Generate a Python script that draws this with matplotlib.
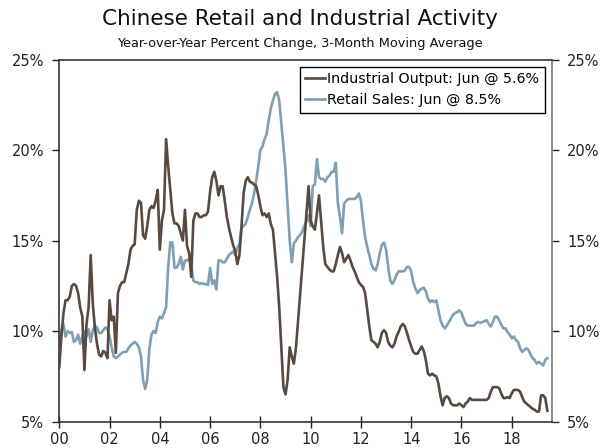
import numpy as np
import matplotlib
matplotlib.use('Agg')
import matplotlib.pyplot as plt
from matplotlib.ticker import FuncFormatter

# monthly values, Jan 2000 - Jun 2019 (3-month moving avg, yoy %)
industrial = [
    8.0, 9.7, 11.0, 11.7, 11.7, 11.9, 12.5, 12.6, 12.5, 12.1, 11.3, 10.8,
    7.85, 10.4, 11.3, 14.2, 11.5, 10.2, 9.3, 8.7, 8.6, 8.9, 8.8, 8.5,
    11.7, 10.6, 10.8, 8.8, 12.1, 12.5, 12.7, 12.7, 13.2, 13.7, 14.5, 14.7,
    14.8, 16.7, 17.2, 17.1, 15.3, 15.1, 15.8, 16.7, 16.9, 16.8, 17.2, 17.8,
    14.5, 16.1, 16.7, 20.6, 19.1, 17.8, 16.5, 15.95, 15.95, 15.8, 15.4, 15.0,
    16.7, 14.7, 14.3, 13.0, 16.1, 16.5, 16.5, 16.3, 16.3, 16.4, 16.4, 16.6,
    17.7, 18.5, 18.8, 18.3, 17.5, 18.0, 18.0, 17.2, 16.3, 15.7, 15.2, 14.75,
    14.4, 13.7, 14.2, 15.8, 17.6, 18.3, 18.5, 18.25, 18.2, 18.1, 18.0, 17.5,
    16.9, 16.4, 16.5, 16.3, 16.5, 15.9, 15.6, 14.3, 13.0, 11.3, 9.1, 6.9,
    6.5, 7.3, 9.1, 8.6, 8.2, 9.1, 10.6, 12.1, 13.55, 15.0, 16.5, 18.0,
    16.1, 15.8, 15.6, 16.5, 17.5, 16.1, 14.65, 13.7, 13.55, 13.4, 13.3, 13.3,
    13.7, 14.2, 14.65, 14.3, 13.8, 14.0, 14.2, 13.9, 13.55, 13.3, 13.0, 12.7,
    12.55, 12.45, 12.1, 11.2, 10.25, 9.5, 9.4, 9.3, 9.1, 9.4, 9.9, 10.05,
    9.9, 9.4, 9.2, 9.1, 9.3, 9.7, 9.95, 10.25, 10.4, 10.25, 9.9, 9.5,
    9.15, 8.85, 8.75, 8.75, 8.95, 9.15, 8.9, 8.4, 7.65, 7.55, 7.65, 7.55,
    7.5, 7.1, 6.4, 5.9, 6.3, 6.4, 6.3, 6.0, 5.9, 5.9, 5.9, 6.0,
    5.9, 5.8, 6.0, 6.1, 6.3, 6.2, 6.2, 6.2, 6.2, 6.2, 6.2, 6.2,
    6.2, 6.3, 6.65, 6.9, 6.9, 6.9, 6.85, 6.55, 6.3, 6.3, 6.35, 6.3,
    6.55, 6.75, 6.75, 6.75, 6.65, 6.35, 6.1, 6.0, 5.9, 5.8, 5.7, 5.65,
    5.55, 5.55, 6.45, 6.45, 6.3, 5.6]

retail = [
    9.1, 10.05, 10.4, 9.7, 10.0, 9.9, 9.95, 9.4, 9.5, 9.8, 9.3, 9.7,
    10.0, 9.7, 10.1, 9.4, 10.05, 10.3, 10.2, 9.9, 9.9, 10.05, 10.2, 10.1,
    9.7, 9.1, 8.6, 8.5, 8.6, 8.7, 8.8, 8.85, 8.85, 9.05, 9.2, 9.3,
    9.4, 9.3, 9.1, 8.6, 7.3, 6.8, 7.3, 9.0, 9.8, 10.0, 9.9, 10.5,
    10.8, 10.7, 11.0, 11.3, 13.55, 14.9, 14.9, 13.5, 13.5, 13.7, 14.1, 13.4,
    13.9, 13.9, 14.0, 13.7, 12.8, 12.7, 12.7, 12.6, 12.65, 12.6, 12.6, 12.55,
    13.5, 12.6, 12.8, 12.3, 13.9, 13.9, 13.8, 13.8, 14.0, 14.2, 14.3, 14.4,
    14.2, 14.6, 14.8, 15.7, 15.8, 15.95, 16.3, 16.7, 17.05, 17.6, 18.3, 19.1,
    20.0, 20.2, 20.6, 20.9, 21.65, 22.3, 22.75, 23.1, 23.2, 22.75, 21.5, 20.2,
    18.9, 16.9, 15.0, 13.8, 14.85, 15.0, 15.2, 15.3, 15.5, 15.8, 16.05, 16.4,
    15.8, 18.0, 18.1, 19.5, 18.5, 18.4, 18.4, 18.25, 18.5, 18.6, 18.8, 18.8,
    19.3, 17.05, 16.3, 15.4, 17.05, 17.2, 17.3, 17.3, 17.3, 17.3, 17.4, 17.6,
    17.2, 16.1, 15.2, 14.65, 14.2, 13.7, 13.45, 13.35, 13.7, 14.3, 14.75, 14.9,
    14.5, 13.55, 12.8, 12.6, 12.8, 13.1, 13.3, 13.3, 13.3, 13.35, 13.55, 13.55,
    13.3, 12.7, 12.35, 12.1, 12.25, 12.35, 12.4, 12.2, 11.8, 11.6, 11.7, 11.6,
    11.7, 11.15, 10.6, 10.3, 10.15, 10.3, 10.5, 10.7, 10.9, 11.0, 11.05, 11.15,
    11.0, 10.7, 10.4, 10.3, 10.3, 10.3, 10.3, 10.45, 10.5, 10.45, 10.5, 10.55,
    10.6, 10.4, 10.25, 10.5, 10.8, 10.8, 10.6, 10.35, 10.15, 10.15, 9.95, 9.8,
    9.6, 9.7, 9.5, 9.4, 9.05, 8.85, 8.95, 9.05, 8.95, 8.7, 8.5, 8.4,
    8.2, 8.3, 8.2, 8.1, 8.4, 8.5]

tick_years = [2000, 2002, 2004, 2006, 2008, 2010, 2012, 2014, 2016, 2018]
tick_labels = ['00', '02', '04', '06', '08', '10', '12', '14', '16', '18']
y_ticks = [5, 10, 15, 20, 25]

ind_color = '#584a40'
ret_color = '#7f9fb4'

months = 2000 + np.arange(len(industrial)) / 12.0

fig = plt.figure(figsize=(6, 4.48), dpi=100)
ax = fig.add_axes([0.0988, 0.059, 0.8207, 0.808])

ax.plot(months, industrial, color=ind_color, lw=1.9,
        label='Industrial Output: Jun @ 5.6%', zorder=3)
ax.plot(months, retail, color=ret_color, lw=1.9,
        label='Retail Sales: Jun @ 8.5%', zorder=2)

ax.set_xlim(2000, 2019.59)
ax.set_ylim(5, 25)
ax.set_xticks(tick_years)
ax.set_xticklabels(tick_labels)
ax.set_yticks(y_ticks)
ax.yaxis.set_major_formatter(FuncFormatter(lambda v, p: '%d%%' % v))

ax.tick_params(axis='x', direction='inout', length=9, width=1, labelsize=10.5,
               colors='#222222', pad=3)
ax.tick_params(axis='y', direction='out', length=5, width=1, labelsize=10.5,
               colors='#222222', right=True, labelright=True, pad=6)
for s in ['left', 'bottom', 'top']:
    ax.spines[s].set_color('#333333')
    ax.spines[s].set_linewidth(1.2)
ax.spines['right'].set_color('#777777')
ax.spines['right'].set_linewidth(1.2)

leg = ax.legend(loc='upper right', fontsize=10.3, handlelength=1.4,
                handletextpad=0.1, borderpad=0.4, labelspacing=0.45,
                fancybox=False, framealpha=1, edgecolor='black',
                borderaxespad=0.5)
leg.get_frame().set_linewidth(1.0)

fig.text(0.5, 0.958, 'Chinese Retail and Industrial Activity', ha='center',
         va='center', fontsize=15.5, color='#111111')
fig.text(0.5, 0.902, 'Year-over-Year Percent Change, 3-Month Moving Average',
         ha='center', va='center', fontsize=9.3, color='#111111')

fig.savefig('out.png', dpi=100)
